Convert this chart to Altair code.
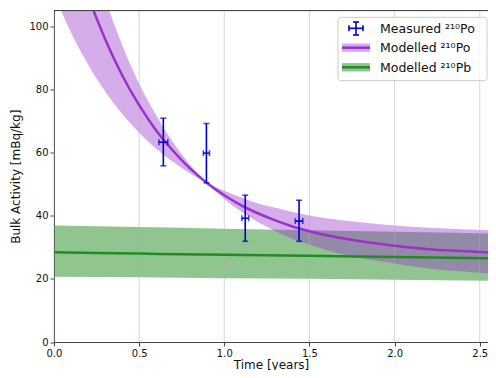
import altair as alt
import pandas as pd

# Measured Po-210
t_meas = [0.642, 0.895, 1.123, 1.439]
po_meas = [63.3, 59.8, 39.2, 38.3]
po_lo = [55.8, 50.4, 31.9, 31.9]
po_hi = [70.9, 69.2, 46.5, 44.9]
t_err = [0.026, 0.018, 0.020, 0.022]

# Modelled Po-210 (central curve and band edges)
t_po = [0.0, 0.1, 0.2, 0.3, 0.4, 0.5, 0.6, 0.7, 0.8, 0.9, 1.0, 1.1, 1.2,
        1.3, 1.4, 1.5, 1.6, 1.8, 2.0, 2.2, 2.4, 2.6]
po_model = [146.0, 126.2, 109.6, 96.0, 84.5, 75.0, 67.0, 60.5, 54.9, 50.3,
            46.5, 43.3, 40.7, 38.5, 36.6, 35.1, 33.8, 31.9, 30.5, 29.4,
            28.8, 28.2]
po_band_a = [110.0, 98.0, 87.9, 79.4, 72.3, 66.3, 61.2, 57.0, 53.4, 50.4,
             47.9, 45.8, 43.9, 42.5, 41.2, 40.1, 39.2, 37.9, 36.9, 36.2,
             35.7, 35.3]
po_band_b = [173.0, 147.6, 126.3, 108.8, 94.1, 81.8, 71.8, 63.2, 56.1, 50.4,
             45.3, 41.3, 37.9, 35.1, 32.7, 30.8, 29.1, 26.6, 24.9, 23.3,
             22.3, 21.6]

# Modelled Pb-210
t_pb = [0.0, 0.5, 1.0, 1.5, 2.0, 2.6]
pb_model = [28.4, 28.0, 27.6, 27.3, 26.9, 26.5]
pb_hi = [36.9, 36.4, 35.9, 35.4, 34.9, 34.3]
pb_lo = [20.7, 20.5, 20.2, 20.0, 19.7, 19.4]

x_ticks = [0.0, 0.5, 1.0, 1.5, 2.0, 2.5]
y_ticks = [0, 20, 40, 60, 80, 100]

legend_labels = ["Measured \u00b2\u00b9\u2070Po", "Modelled \u00b2\u00b9\u2070Po",
                 "Modelled \u00b2\u00b9\u2070Pb"]

PURPLE = "#9932CC"
GREEN = "#228B22"
BLUE = "#0000CD"
FONT = "DejaVu Sans"
AXC = "#444"

meas = pd.DataFrame({"t": t_meas, "y": po_meas, "lo": po_lo, "hi": po_hi,
                     "tl": [a - b for a, b in zip(t_meas, t_err)],
                     "tr": [a + b for a, b in zip(t_meas, t_err)]})
po = pd.DataFrame({"t": t_po, "y": po_model, "a": po_band_a, "b": po_band_b})
pb = pd.DataFrame({"t": t_pb, "y": pb_model, "lo": pb_lo, "hi": pb_hi})
grid = pd.DataFrame({"t": x_ticks})
one = pd.DataFrame({"k": [0]})

# the reference figure is cropped on the right just past 2.55 years
xs = alt.Scale(domain=[0, 2.5485], nice=False, zero=False, padding=0)
ys = alt.Scale(domain=[0, 105], nice=False, padding=0)

xax = alt.Axis(values=x_ticks, format=".1f", grid=False, title="Time [years]",
               labelFontSize=10, titleFontSize=12, tickSize=4, labelPadding=2,
               labelFlush=False, labelOverlap=False,
               titleY=26, titleBaseline="alphabetic",
               labelFont=FONT, titleFont=FONT,
               titleFontWeight="normal", labelColor="#111", titleColor="#111",
               domainColor=AXC, tickColor=AXC)
yax = alt.Axis(values=y_ticks, grid=False, title="Bulk Activity [mBq/kg]",
               labelFontSize=10, titleFontSize=12, tickSize=4, labelPadding=2,
               labelFlush=False, labelOverlap=False,
               titlePadding=6, labelFont=FONT, titleFont=FONT,
               titleFontWeight="normal", labelColor="#111", titleColor="#111",
               domainColor=AXC, tickColor=AXC)

X = alt.X("t:Q", scale=xs, axis=xax)
Y = alt.Y("y:Q", scale=ys, axis=yax)

pb_band = alt.Chart(pb).mark_area(color=GREEN, opacity=0.5, clip=True,
                                  interpolate="monotone").encode(
    x=X, y=alt.Y("lo:Q", scale=ys, axis=yax), y2="hi:Q")
po_band = alt.Chart(po).mark_area(color=PURPLE, opacity=0.4, clip=True,
                                  interpolate="monotone").encode(
    x=X, y=alt.Y("a:Q", scale=ys, axis=yax), y2="b:Q")
grid_l = alt.Chart(grid).mark_rule(color="#b0b0b0", opacity=0.5,
                                   strokeWidth=1).encode(x=alt.X("t:Q", scale=xs, axis=xax))
pb_line = alt.Chart(pb).mark_line(color=GREEN, strokeWidth=2.5, clip=True,
                                  interpolate="monotone").encode(x=X, y=Y)
po_line = alt.Chart(po).mark_line(color=PURPLE, strokeWidth=2.5, clip=True,
                                  interpolate="monotone").encode(x=X, y=Y)

ev = alt.Chart(meas).mark_rule(color=BLUE, strokeWidth=1.6).encode(
    x=X, y=alt.Y("lo:Q", scale=ys, axis=yax), y2="hi:Q")
eh = alt.Chart(meas).mark_rule(color=BLUE, strokeWidth=1.6).encode(
    x=alt.X("tl:Q", scale=xs, axis=xax), x2="tr:Q", y=Y)
cap_lo = alt.Chart(meas).mark_tick(color=BLUE, orient="horizontal", size=6,
                                   thickness=1.6).encode(
    x=X, y=alt.Y("lo:Q", scale=ys, axis=yax))
cap_hi = alt.Chart(meas).mark_tick(color=BLUE, orient="horizontal", size=6,
                                   thickness=1.6).encode(
    x=X, y=alt.Y("hi:Q", scale=ys, axis=yax))
cap_l = alt.Chart(meas).mark_tick(color=BLUE, orient="vertical", size=6,
                                  thickness=1.6).encode(
    x=alt.X("tl:Q", scale=xs, axis=xax), y=Y)
cap_r = alt.Chart(meas).mark_tick(color=BLUE, orient="vertical", size=6,
                                  thickness=1.6).encode(
    x=alt.X("tr:Q", scale=xs, axis=xax), y=Y)

# top spine (right spine is cropped away in the reference)
top_spine = alt.Chart(one).mark_rule(color=AXC, strokeWidth=1).encode(
    x=alt.value(0), x2=alt.value(434), y=alt.value(0))

# Legend (drawn in pixel space of the plot area)
lb = alt.Chart(one).mark_rect(fill="white", fillOpacity=0.8, stroke="#cccccc",
                              strokeWidth=1, cornerRadius=3).encode(
    x=alt.value(284), x2=alt.value(433), y=alt.value(6.8), y2=alt.value(70.2))
lg_ev = alt.Chart(one).mark_rule(color=BLUE, strokeWidth=1.6).encode(
    x=alt.value(302), y=alt.value(11.5), y2=alt.value(24.5))
lg_eh = alt.Chart(one).mark_rule(color=BLUE, strokeWidth=1.6).encode(
    x=alt.value(295), x2=alt.value(309), y=alt.value(17.8))
lg_c1 = alt.Chart(one).mark_rule(color=BLUE, strokeWidth=1.6).encode(
    x=alt.value(299), x2=alt.value(305), y=alt.value(11.5))
lg_c2 = alt.Chart(one).mark_rule(color=BLUE, strokeWidth=1.6).encode(
    x=alt.value(299), x2=alt.value(305), y=alt.value(24.5))
lg_c3 = alt.Chart(one).mark_rule(color=BLUE, strokeWidth=1.6).encode(
    x=alt.value(295), y=alt.value(14.8), y2=alt.value(20.8))
lg_c4 = alt.Chart(one).mark_rule(color=BLUE, strokeWidth=1.6).encode(
    x=alt.value(309), y=alt.value(14.8), y2=alt.value(20.8))
lg_p1 = alt.Chart(one).mark_rect(color=PURPLE, opacity=0.4).encode(
    x=alt.value(288), x2=alt.value(316), y=alt.value(33), y2=alt.value(41.4))
lg_p2 = alt.Chart(one).mark_rule(color=PURPLE, strokeWidth=2.5).encode(
    x=alt.value(288), x2=alt.value(316), y=alt.value(37.2))
lg_g1 = alt.Chart(one).mark_rect(color=GREEN, opacity=0.5).encode(
    x=alt.value(288), x2=alt.value(316), y=alt.value(52.6), y2=alt.value(61))
lg_g2 = alt.Chart(one).mark_rule(color=GREEN, strokeWidth=2.5).encode(
    x=alt.value(288), x2=alt.value(316), y=alt.value(56.8))

def ltext(i, yy):
    return alt.Chart(pd.DataFrame({"lab": [legend_labels[i]]})).mark_text(
        align="left", baseline="middle", fontSize=12.5, font=FONT, color="#111"
    ).encode(x=alt.value(326), y=alt.value(yy), text="lab:N")

chart = alt.layer(
    pb_band, po_band, grid_l, pb_line, po_line,
    ev, eh, cap_lo, cap_hi, cap_l, cap_r, top_spine,
    lb, lg_ev, lg_eh, lg_c1, lg_c2, lg_c3, lg_c4, lg_p1, lg_p2, lg_g1, lg_g2,
    ltext(0, 18.3), ltext(1, 37.7), ltext(2, 57.3)
).properties(
    width=434, height=331.5,
    autosize=alt.AutoSizeParams(type="none"),
    padding={"left": 46, "top": 2.5, "right": 0, "bottom": 28}
).configure_view(stroke=None).configure(background="white")

chart.save("out.html", embed_options={"renderer": "svg", "actions": False})
